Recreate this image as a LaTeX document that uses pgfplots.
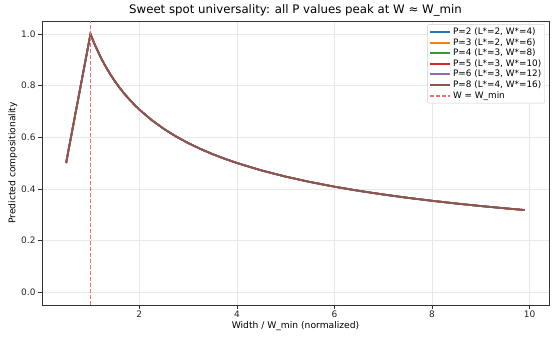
\documentclass[border=0pt]{standalone}
\usepackage{pgfplots}
\pgfplotsset{compat=1.18}
\usepackage{pgfplotstable}
\usepackage{fontspec}
\setmainfont{DejaVu Sans}
\setsansfont{DejaVu Sans}

\definecolor{tabblue}{HTML}{1F77B4}
\definecolor{taborange}{HTML}{FF7F0E}
\definecolor{tabgreen}{HTML}{2CA02C}
\definecolor{tabred}{HTML}{D62728}
\definecolor{tabpurple}{HTML}{9467BD}
\definecolor{tabbrown}{HTML}{8C564B}
\definecolor{refline}{HTML}{F07070}

% Predicted compositionality versus normalized width (same curve for every P)
\pgfplotstableread{
x      y
0.50   0.5000
0.60   0.6000
0.70   0.7000
0.80   0.8000
0.90   0.9000
1.00   1.0000
1.05   0.9759
1.10   0.9535
1.20   0.9129
1.30   0.8771
1.40   0.8452
1.50   0.8165
1.60   0.7906
1.70   0.7670
1.80   0.7454
1.90   0.7255
2.00   0.7071
2.25   0.6667
2.50   0.6325
2.75   0.6030
3.00   0.5774
3.25   0.5547
3.50   0.5345
3.75   0.5164
4.00   0.5000
4.50   0.4714
5.00   0.4472
5.50   0.4264
6.00   0.4082
6.50   0.3922
7.00   0.3780
7.50   0.3651
8.00   0.3536
8.50   0.3430
9.00   0.3333
9.50   0.3244
9.90   0.3178
}\curve

\pgfplotsset{
  curve/.style={no marks, line width=1.7bp},
}

\begin{document}
\begin{tikzpicture}[x=1bp,y=1bp]
\begin{axis}[
  at={(0,0)}, anchor=south west,
  scale only axis,
  width=507bp, height=284bp,
  xmin=0.006, xmax=10.396,
  ymin=-0.05, ymax=1.05,
  xtick={2,4,6,8,10},
  ytick={0,0.2,0.4,0.6,0.8,1.0},
  yticklabel style={xshift=0.5bp, /pgf/number format/.cd,fixed,fixed zerofill,precision=1},
  /pgf/number format/assume math mode=true,
  tick label style={font=\fontsize{9}{10}\selectfont, color=black!85},
  xticklabel style={yshift=1bp},
  label style={font=\fontsize{9.2}{10}\selectfont},
  xlabel style={yshift=3bp},
  ylabel style={yshift=-3bp},
  title style={font=\fontsize{11.8}{14}\selectfont, yshift=-4.5bp},
  title={Sweet spot universality: all P values peak at W ≈ W\_min},
  xlabel={Width / W\_min (normalized)},
  ylabel={Predicted compositionality},
  grid=major,
  major grid style={black!9, line width=0.5bp},
  axis line style={black!80, line width=0.7bp},
  tick style={black!80, line width=0.6bp},
  tick align=outside,
  major tick length=3.5bp,
  xtick pos=bottom, ytick pos=left,
  legend cell align=left,
  legend style={font=\fontsize{8.9}{10}\selectfont, draw=black!20, rounded corners=1.5bp,
    inner sep=1.5bp, row sep=-1.6bp, at={(0.992,0.989)}, anchor=north east},
  legend image code/.code={\draw[#1, line width=2bp] (0bp,0bp) -- (20bp,0bp);},
]
\addplot[tabblue, curve] table {\curve};
\addlegendentry{P=2 (L*=2, W*=4)}
\addplot[taborange, curve] table {\curve};
\addlegendentry{P=3 (L*=2, W*=6)}
\addplot[tabgreen, curve] table {\curve};
\addlegendentry{P=4 (L*=3, W*=8)}
\addplot[tabred, curve] table {\curve};
\addlegendentry{P=5 (L*=3, W*=10)}
\addplot[tabpurple, curve] table {\curve};
\addlegendentry{P=6 (L*=3, W*=12)}
\addplot[tabbrown, curve] table {\curve};
\addlegendentry{P=8 (L*=4, W*=16)}
\addplot[color=refline, draw=refline, dashed, dash pattern=on 4bp off 2bp, line width=1.3bp, no marks] coordinates {(1,-0.05) (1,1.05)};
\addlegendentry{W = W\_min}
\end{axis}
\pgfresetboundingbox
\useasboundingbox (-42bp,-38bp) rectangle (514bp,305bp);
\end{tikzpicture}
\end{document}
